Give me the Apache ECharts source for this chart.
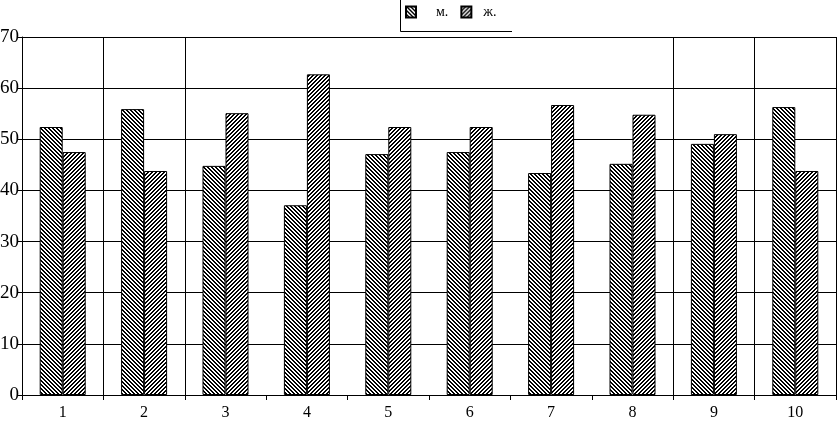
<!DOCTYPE html>
<html>
<head>
<meta charset="utf-8">
<script src="https://cdn.jsdelivr.net/npm/echarts@6/dist/echarts.min.js"></script>
<style>html,body{margin:0;padding:0;background:#fff;}#c{width:837px;height:426px;}</style>
</head>
<body>
<div id="c"></div>
<script>
var categories = ['1','2','3','4','5','6','7','8','9','10'];
var seriesNames = ['м.', 'ж.'];
var maleValues = [52.4, 55.9, 44.8, 37.1, 47.1, 47.5, 43.4, 45.2, 49.1, 56.3];
var femaleValues = [47.5, 43.8, 55.1, 62.7, 52.4, 52.4, 56.7, 54.8, 51.0, 43.8];
var yTicks = [0, 10, 20, 30, 40, 50, 60, 70];
var verticalGridAt = [1, 2, 8, 9, 10];

function makePattern(dir) {
  var c = document.createElement('canvas');
  c.width = 4; c.height = 4;
  var ctx = c.getContext('2d');
  ctx.fillStyle = '#fff';
  ctx.fillRect(0, 0, 4, 4);
  ctx.fillStyle = '#000';
  for (var i = 0; i < 4; i++) {
    var x = dir > 0 ? i : 3 - i;
    ctx.fillRect(x, i, 1, 1);
    ctx.fillRect((x + 1) % 4, i, 1, 1);
  }
  return c;
}
var patBack = { image: makePattern(1), repeat: 'repeat' };
var patFwd = { image: makePattern(-1), repeat: 'repeat' };

var chart = echarts.init(document.getElementById('c'), null, { renderer: 'canvas' });
var font = '"Liberation Serif", "Times New Roman", serif';
chart.setOption({
  animation: false,
  backgroundColor: '#fff',
  textStyle: { fontFamily: font, color: '#000' },
  grid: { left: 22, right: 1, top: 37, bottom: 31, containLabel: false, outerBoundsMode: 'none' },
  legend: {
    left: 400, top: 0,
    itemWidth: 10, itemHeight: 11, itemGap: 12,
    icon: 'rect',
    textStyle: { fontFamily: font, fontSize: 14, color: '#000' },
    data: [
      { name: seriesNames[0], textStyle: { padding: [3, 0, 0, 15] } },
      { name: seriesNames[1], textStyle: { padding: [3, 0, 0, 7] } }
    ]
  },
  graphic: [{
    type: 'polyline',
    shape: { points: [[400.5, 0], [400.5, 31.5], [512, 31.5]] },
    style: { stroke: '#000', lineWidth: 1, fill: null }
  }],
  xAxis: {
    type: 'category',
    data: categories,
    axisLine: { show: true, lineStyle: { color: '#000', width: 1 } },
    axisTick: { show: true, length: 5, lineStyle: { color: '#000' } },
    axisLabel: { color: '#000', fontFamily: font, fontSize: 16, margin: 10 },
    splitLine: {
      show: true,
      interval: function (index) { return verticalGridAt.indexOf(index) >= 0; },
      lineStyle: { color: '#000', width: 1 }
    }
  },
  yAxis: {
    type: 'value',
    min: yTicks[0], max: yTicks[yTicks.length - 1], interval: 10,
    axisLine: { show: true, lineStyle: { color: '#000', width: 1 } },
    axisTick: { show: true, length: 4, lineStyle: { color: '#000' } },
    axisLabel: { color: '#000', fontFamily: font, fontSize: 19, margin: 3 },
    splitLine: { show: true, lineStyle: { color: '#000', width: 1 } }
  },
  series: [{
    name: seriesNames[0],
    type: 'bar',
    data: maleValues,
    barWidth: 23,
    barGap: '0%',
    itemStyle: { color: patBack, borderColor: '#000', borderWidth: 1 }
  }, {
    name: seriesNames[1],
    type: 'bar',
    data: femaleValues,
    barWidth: 23,
    barGap: '0%',
    itemStyle: { color: patFwd, borderColor: '#000', borderWidth: 1 }
  }]
});
</script>
</body>
</html>
